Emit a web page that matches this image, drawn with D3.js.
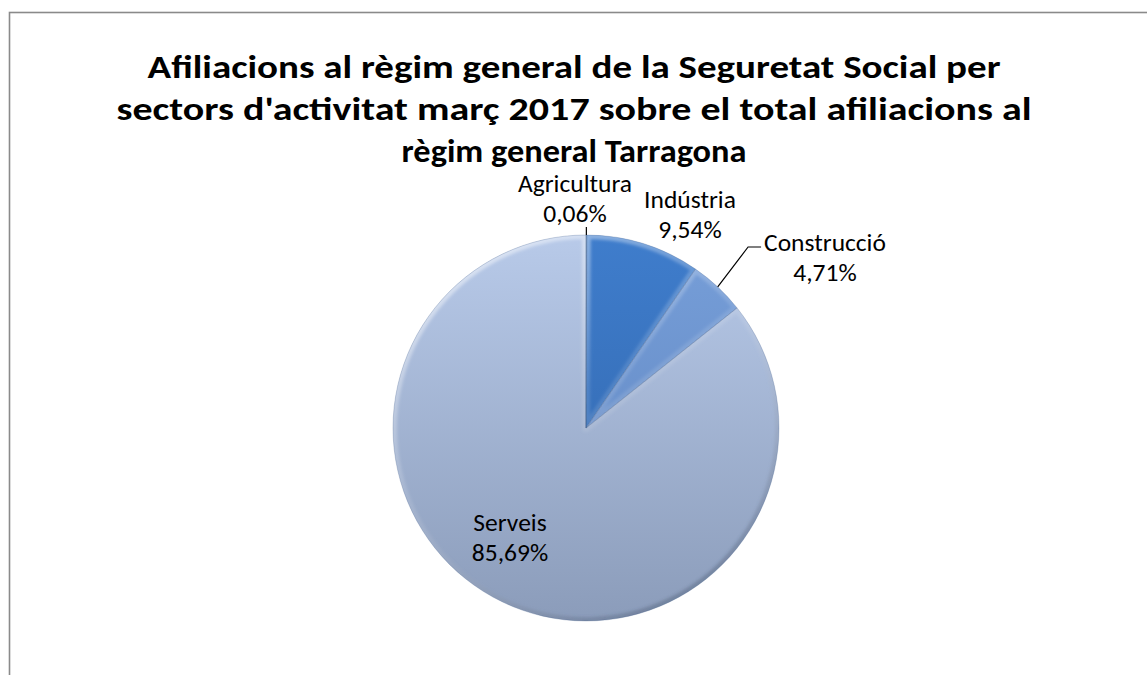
<!DOCTYPE html>
<html>
<head>
<meta charset="utf-8">
<script src="https://cdn.jsdelivr.net/npm/d3@7"></script>
<style>
  html, body { margin: 0; padding: 0; background: #ffffff; }
  svg { display: block; }
</style>
</head>
<body>
<svg id="chart" width="1147" height="675"></svg>
<script>
// ---- data ----
const titleLines = [
  "Afiliacions al règim general de la Seguretat Social per",
  "sectors d'activitat març 2017 sobre el total afiliacions al",
  "règim general Tarragona"
];
const categories = ["Agricultura", "Indústria", "Construcció", "Serveis"];
const values = [0.06, 9.54, 4.71, 85.69];
const valueLabels = ["0,06%", "9,54%", "4,71%", "85,69%"];

// ---- layout / style ----
const cx = 586, cy = 428, R = 193;
const titleCenterX = 574;
const titleBaselines = [78, 120, 162];
const titleWidths = [853, 915, 345];
const titleSize = 33;
const labelFont = "Carlito, Calibri, Lato, sans-serif";
const labelSize = 25.5;
const lineGap = 30;
const labelOffsets = [[-11, -236], [104, -220], [239, -177], [-76, 103]];
const leaderFlags = [true, false, true, false];
const topColors = ["#2c5c9c", "#3f7dcc", "#779fd9", "#b8cae9"];
const botColors = ["#234c85", "#2f63a8", "#5c82bd", "#8b9cba"];

const svg = d3.select("#chart");
const defs = svg.append("defs");

// frame
svg.append("rect").attr("x", 9.5).attr("y", 12.5).attr("width", 1300).attr("height", 800)
  .attr("fill", "#ffffff").attr("stroke", "#8a8a8a").attr("stroke-width", 1.6);

// title
const title = svg.append("g");
titleLines.forEach((t, i) => {
  title.append("text")
    .attr("x", titleCenterX).attr("y", titleBaselines[i])
    .attr("text-anchor", "middle")
    .attr("font-family", "Carlito, Calibri, Lato, sans-serif")
    .attr("font-weight", "bold")
    .attr("font-size", titleSize)
    .attr("fill", "#000")
    .attr("textLength", titleWidths[i]).attr("lengthAdjust", "spacingAndGlyphs")
    .text(t);
});

// pie
const pie = d3.pie().sort(null).value(d => d)(values);
const arc = d3.arc().innerRadius(0).outerRadius(R);

categories.forEach((c, i) => {
  const g = defs.append("linearGradient").attr("id", "fill" + i)
    .attr("gradientUnits", "userSpaceOnUse")
    .attr("x1", 0).attr("y1", -R).attr("x2", 0).attr("y2", R);
  g.append("stop").attr("offset", 0).attr("stop-color", topColors[i]);
  g.append("stop").attr("offset", 1).attr("stop-color", botColors[i]);
});
const bev = defs.append("linearGradient").attr("id", "bevel")
  .attr("gradientUnits", "userSpaceOnUse")
  .attr("x1", -R * 0.7).attr("y1", -R).attr("x2", R * 0.5).attr("y2", R);
bev.append("stop").attr("offset", 0).attr("stop-color", "#ffffff").attr("stop-opacity", 0.55);
bev.append("stop").attr("offset", 0.45).attr("stop-color", "#ffffff").attr("stop-opacity", 0.12);
bev.append("stop").attr("offset", 1).attr("stop-color", "#1a2a45").attr("stop-opacity", 0.3);
defs.append("filter").attr("id", "soft").append("feGaussianBlur").attr("stdDeviation", 1.8);

const pg = svg.append("g").attr("transform", `translate(${cx},${cy})`);
pie.forEach((d, i) => {
  defs.append("clipPath").attr("id", "clip" + i)
    .append("path").attr("d", arc(d));
});
pie.forEach((d, i) => {
  pg.append("path").attr("d", arc(d)).attr("fill", `url(#fill${i})`);
});
pie.forEach((d, i) => {
  pg.append("g").attr("clip-path", `url(#clip${i})`)
    .append("path")
    .attr("d", arc(d)).attr("fill", "none")
    .attr("stroke", "url(#bevel)").attr("stroke-width", 8)
    .attr("stroke-linejoin", "round")
    .attr("filter", "url(#soft)");
});
pie.forEach((d, i) => {
  pg.append("path").attr("d", arc(d)).attr("fill", "none")
    .attr("stroke", "#3d5a86").attr("stroke-opacity", 0.35).attr("stroke-width", 0.7);
});

// labels
const lg = svg.append("g").attr("font-family", labelFont).attr("font-size", labelSize).attr("fill", "#000");
pie.forEach((d, i) => {
  const lx = cx + labelOffsets[i][0];
  const ly = cy + labelOffsets[i][1];
  const t1 = lg.append("text").attr("x", lx).attr("y", ly).attr("text-anchor", "middle").text(categories[i]);
  lg.append("text").attr("x", lx).attr("y", ly + lineGap).attr("text-anchor", "middle").text(valueLabels[i]);
  if (leaderFlags[i]) {
    const mid = (d.startAngle + d.endAngle) / 2;
    const px = cx + R * Math.sin(mid), py = cy - R * Math.cos(mid);
    let pts;
    if (i === 0) {
      pts = [[px, py], [px, ly + lineGap + 5]];
    } else {
      const w = t1.node().getComputedTextLength();
      const left = lx - w / 2;
      pts = [[px, py], [left - 16, ly - 4], [left - 3, ly - 4]];
    }
    lg.append("path").attr("d", d3.line()(pts)).attr("fill", "none")
      .attr("stroke", "#000").attr("stroke-width", 1.2);
  }
});
</script>
</body>
</html>
